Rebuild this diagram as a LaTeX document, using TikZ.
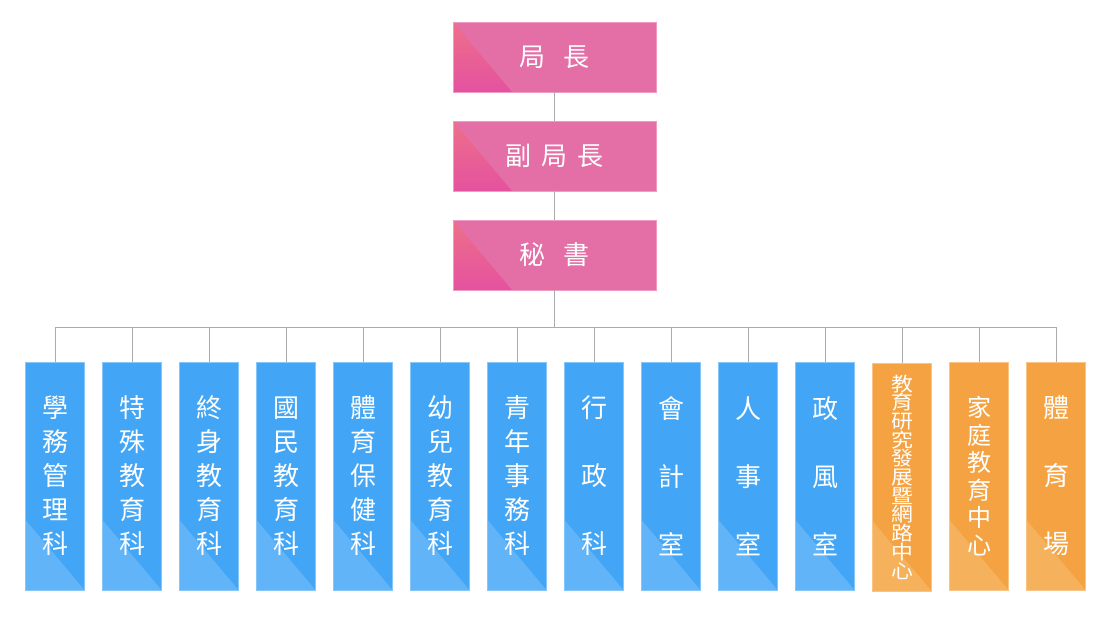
\documentclass[tikz,border=0pt]{standalone}
\usepackage{fontspec}
\newfontfamily\cjk{Noto Sans CJK TC}
\newfontfamily\cjkwide[FakeStretch=1.12]{Noto Sans CJK TC}
\definecolor{pinkmain}{HTML}{E46FA6}
\definecolor{pinkedge}{HTML}{F09AC4}
\definecolor{pinktop}{HTML}{EE6F8A}
\definecolor{pinkbot}{HTML}{E4529F}
\definecolor{bluemain}{HTML}{42A5F5}
\definecolor{blueedge}{HTML}{86C6F9}
\definecolor{bluetri}{HTML}{62B4F8}
\definecolor{orgmain}{HTML}{F5A342}
\definecolor{orgedge}{HTML}{F9C486}
\definecolor{orgtri}{HTML}{F6B15C}
\definecolor{linegray}{HTML}{ABABAB}
\tikzset{
  tri/.style={path picture={\fill[#1] (path picture bounding box.south west) -- ++(0,-70) -- ++(59,70) -- cycle;}},
  topbox/.style={draw=pinkedge, fill=pinkmain, line width=0.8pt, minimum width=203, minimum height=70, inner sep=0pt, text=white,
    font={\fontsize{26}{30}\cjk},
    path picture={\shade[top color=pinktop, bottom color=pinkbot] (path picture bounding box.south west) -- ++(0,-70) -- ++(59,70) -- cycle;}},
  colbox/.style={draw=#1edge, fill=#1main, line width=0.8pt, minimum width=59, minimum height=228, inner sep=0pt, text=white, align=center},
  bluebox/.style={colbox=blue, tri=bluetri, font={\fontsize{26}{34}\cjk}},
  bluewide/.style={colbox=blue, tri=bluetri, font={\fontsize{26}{68}\cjk}},
  orgbox/.style={colbox=org, tri=orgtri},
  conn/.style={draw=linegray, line width=1pt}
}
\begin{document}
\begin{tikzpicture}[x=1pt,y=-1pt]
\useasboundingbox (0,0) rectangle (1110,630);
\node[topbox] (a) at (554.5,57) {局\hspace{19pt}長};
\node[topbox] (b) at (554.5,156) {副\hspace{10pt}局\hspace{10pt}長};
\node[topbox] (c) at (554.5,255) {秘\hspace{19pt}書};
\coordinate (bus) at (0,327);
\node[bluebox] (k1) at (55,476) {學\\務\\管\\理\\科};
\node[bluebox] (k2) at (132,476) {特\\殊\\教\\育\\科};
\node[bluebox] (k3) at (209,476) {終\\身\\教\\育\\科};
\node[bluebox] (k4) at (286,476) {國\\民\\教\\育\\科};
\node[bluebox] (k5) at (363,476) {體\\育\\保\\健\\科};
\node[bluebox] (k6) at (440,476) {幼\\兒\\教\\育\\科};
\node[bluebox] (k7) at (517,476) {青\\年\\事\\務\\科};
\node[bluewide] (k8) at (594,476) {行\\政\\科};
\node[bluewide] (k9) at (671,476) {會\\計\\室};
\node[bluewide] (k10) at (748,476) {人\\事\\室};
\node[bluewide] (k11) at (825,476) {政\\風\\室};
\node[orgbox, font={\fontsize{19.5}{18.7}\cjkwide}] (k12) at (902,477) {教\\育\\研\\究\\發\\展\\暨\\網\\路\\中\\心};
\node[orgbox, font={\fontsize{24}{27.6}\cjk}] (k13) at (979,476) {家\\庭\\教\\育\\中\\心};
\node[orgbox, font={\fontsize{26}{68}\cjk}] (k14) at (1056,476) {體\\育\\場};
\draw[conn] (a.south) -- (b.north);
\draw[conn] (b.south) -- (c.north);
\draw[conn] (c.south) -- (c.south |- bus);
\draw[conn] (k1.north) -- (k1.north |- bus) -- (k14.north |- bus) -- (k14.north);
\foreach \k in {k2,k3,k4,k5,k6,k7,k8,k9,k10,k11,k12,k13}{
  \draw[conn] (\k.north) -- (\k.north |- bus);
}
\end{tikzpicture}
\end{document}
